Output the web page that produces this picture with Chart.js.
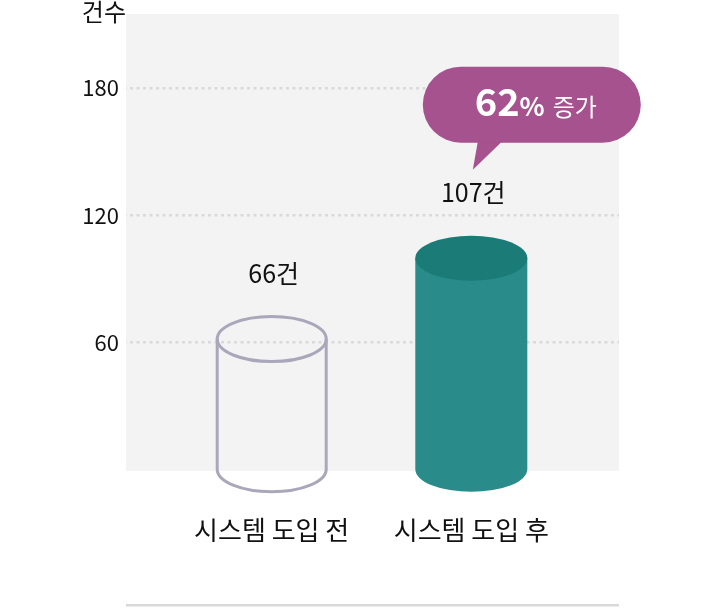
<!DOCTYPE html>
<html>
<head>
<meta charset="utf-8">
<script src="https://cdn.jsdelivr.net/npm/chart.js@4/dist/chart.umd.min.js"></script>
<style>
  html, body { margin: 0; padding: 0; background: #ffffff; }
  #wrap { width: 720px; height: 608px; }
</style>
</head>
<body>
<div id="wrap"><canvas id="c" width="720" height="608"></canvas></div>
<script>
// ---- data ----
const categories = ['시스템 도입 전', '시스템 도입 후'];
const values = [66, 107];
const valueUnit = '건';
const yTicks = [60, 120, 180];
const yTitle = '건수';
const calloutNumber = '62';
const calloutPercent = '%';
const calloutText = '증가';

const FONT = '"Noto Sans CJK KR", "Noto Sans", sans-serif';

const cylinderPlugin = {
  id: 'cylinders',
  beforeDraw(chart) {
    const { ctx, chartArea: a } = chart;
    ctx.save();
    ctx.fillStyle = '#f3f3f3';
    ctx.fillRect(a.left, a.top, a.right - a.left, a.bottom - a.top + 1.5);
    // bottom rule
    ctx.fillStyle = '#d9d9d9';
    ctx.fillRect(a.left, chart.height - 4, a.right - a.left, 2.5);
    // axis title
    ctx.fillStyle = '#111111';
    ctx.font = '24px ' + FONT;
    ctx.textAlign = 'right';
    ctx.textBaseline = 'middle';
    ctx.fillText(yTitle, a.left, a.top - 2);
    ctx.restore();
  },
  afterDatasetsDraw(chart) {
    const { ctx } = chart;
    const meta = chart.getDatasetMeta(0);
    const ry = 22.5;
    ctx.save();
    meta.data.forEach((bar, i) => {
      const { x, y, base, width } = bar.getProps(['x', 'y', 'base', 'width'], true);
      if (i === 0) {
        const rx = width / 2 - 1.5;
        ctx.lineWidth = 3;
        ctx.strokeStyle = '#a9a7b9';
        ctx.beginPath();
        ctx.moveTo(x - rx, y);
        ctx.lineTo(x - rx, base);
        ctx.ellipse(x, base, rx, ry, 0, Math.PI, 0, true);
        ctx.lineTo(x + rx, y);
        ctx.stroke();
        ctx.beginPath();
        ctx.ellipse(x, y, rx, ry, 0, 0, Math.PI * 2);
        ctx.stroke();
      } else {
        const rx = width / 2;
        ctx.fillStyle = '#2a8c8a';
        ctx.beginPath();
        ctx.moveTo(x - rx, y);
        ctx.lineTo(x - rx, base);
        ctx.ellipse(x, base, rx, ry, 0, Math.PI, 0, true);
        ctx.lineTo(x + rx, y);
        ctx.closePath();
        ctx.fill();
        ctx.fillStyle = '#1a7b77';
        ctx.beginPath();
        ctx.ellipse(x, y, rx, ry, 0, 0, Math.PI * 2);
        ctx.fill();
      }
      // value label
      ctx.fillStyle = '#111111';
      ctx.font = '25px ' + FONT;
      ctx.textAlign = 'center';
      ctx.textBaseline = 'middle';
      const ly = y - ry - 43;
      ctx.fillText(values[i] + valueUnit, x + 2, ly);

      if (i === values.length - 1) {
        // callout bubble
        const tipX = x + 1.5, tipY = ly - 23;
        const pb = tipY - 27, pt = pb - 76;
        const pl = x - 48.5, pr = x + 169.5;
        const r = (pb - pt) / 2;
        ctx.fillStyle = '#a5528f';
        ctx.beginPath();
        ctx.moveTo(pl + r, pt);
        ctx.lineTo(pr - r, pt);
        ctx.arc(pr - r, pt + r, r, -Math.PI / 2, Math.PI / 2);
        ctx.lineTo(pl + r, pb);
        ctx.arc(pl + r, pt + r, r, Math.PI / 2, Math.PI * 1.5);
        ctx.closePath();
        ctx.fill();
        ctx.beginPath();
        ctx.moveTo(x + 6.5, pb - 1);
        ctx.lineTo(x + 30.5, pb - 1);
        ctx.lineTo(tipX, tipY);
        ctx.closePath();
        ctx.fill();
        // text
        ctx.fillStyle = '#ffffff';
        ctx.textAlign = 'left';
        ctx.textBaseline = 'alphabetic';
        const f1 = 'bold 38px ' + FONT, f2 = 'bold 26px ' + FONT, f3 = '24px ' + FONT;
        ctx.font = f1; const w1 = ctx.measureText(calloutNumber).width;
        ctx.font = f2; const w2 = ctx.measureText(calloutPercent).width;
        ctx.font = f3; const w3 = ctx.measureText(calloutText).width;
        const gap = 8;
        const total = w1 + w2 + gap + w3;
        let tx = (pl + pr) / 2 + 4 - total / 2;
        const by = pt + 49;
        ctx.font = f1; ctx.fillText(calloutNumber, tx, by); tx += w1;
        ctx.font = f2; ctx.fillText(calloutPercent, tx, by); tx += w2 + gap;
        ctx.font = f3; ctx.fillText(calloutText, tx, by);
      }
    });
    ctx.restore();
  }
};

new Chart(document.getElementById('c'), {
  type: 'bar',
  data: {
    datasets: [{
      data: values.map((v, i) => ({ x: i + 1, y: v })),
      yAxisID: 'yBar',
      backgroundColor: 'rgba(0,0,0,0)',
      borderWidth: 0,
      barThickness: 112
    }]
  },
  plugins: [cylinderPlugin],
  options: {
    responsive: false,
    animation: false,
    events: [],
    layout: { padding: { left: 0, right: 101, top: 14, bottom: 0 } },
    plugins: { legend: { display: false }, tooltip: { enabled: false } },
    scales: {
      x: {
        type: 'linear',
        position: 'bottom',
        offset: false,
        min: 0.27,
        max: 2.74,
        afterBuildTicks(s) { s.ticks = categories.map((c, i) => ({ value: i + 1 })); },
        afterFit(s) { s.height = 608 - 469.3; s.paddingLeft = 0; s.paddingRight = 0; },
        grid: { display: false, drawTicks: false, tickLength: 0 },
        border: { display: false },
        ticks: {
          padding: 45.5,
          maxRotation: 0,
          minRotation: 0,
          autoSkip: false,
          color: '#111111',
          font: { family: FONT, size: 26 },
          callback: (v) => categories[Math.round(v) - 1] || ''
        }
      },
      y: {
        min: 0,
        max: 215,
        position: 'left',
        afterBuildTicks(s) { s.ticks = yTicks.map(v => ({ value: v })); },
        afterFit(s) { s.width = 126; s.paddingTop = 0; s.paddingBottom = 0; },
        grid: {
          color: '#dadada',
          lineWidth: 2.5,
          drawTicks: false,
          tickLength: 0
        },
        border: { display: false, dash: [3, 3.5], dashOffset: -4 },
        ticks: {
          padding: 7,
          color: '#111111',
          font: { family: FONT, size: 22 }
        }
      },
      yBar: {
        display: false,
        min: 0,
        max: 230.8
      }
    }
  }
});
</script>
</body>
</html>
